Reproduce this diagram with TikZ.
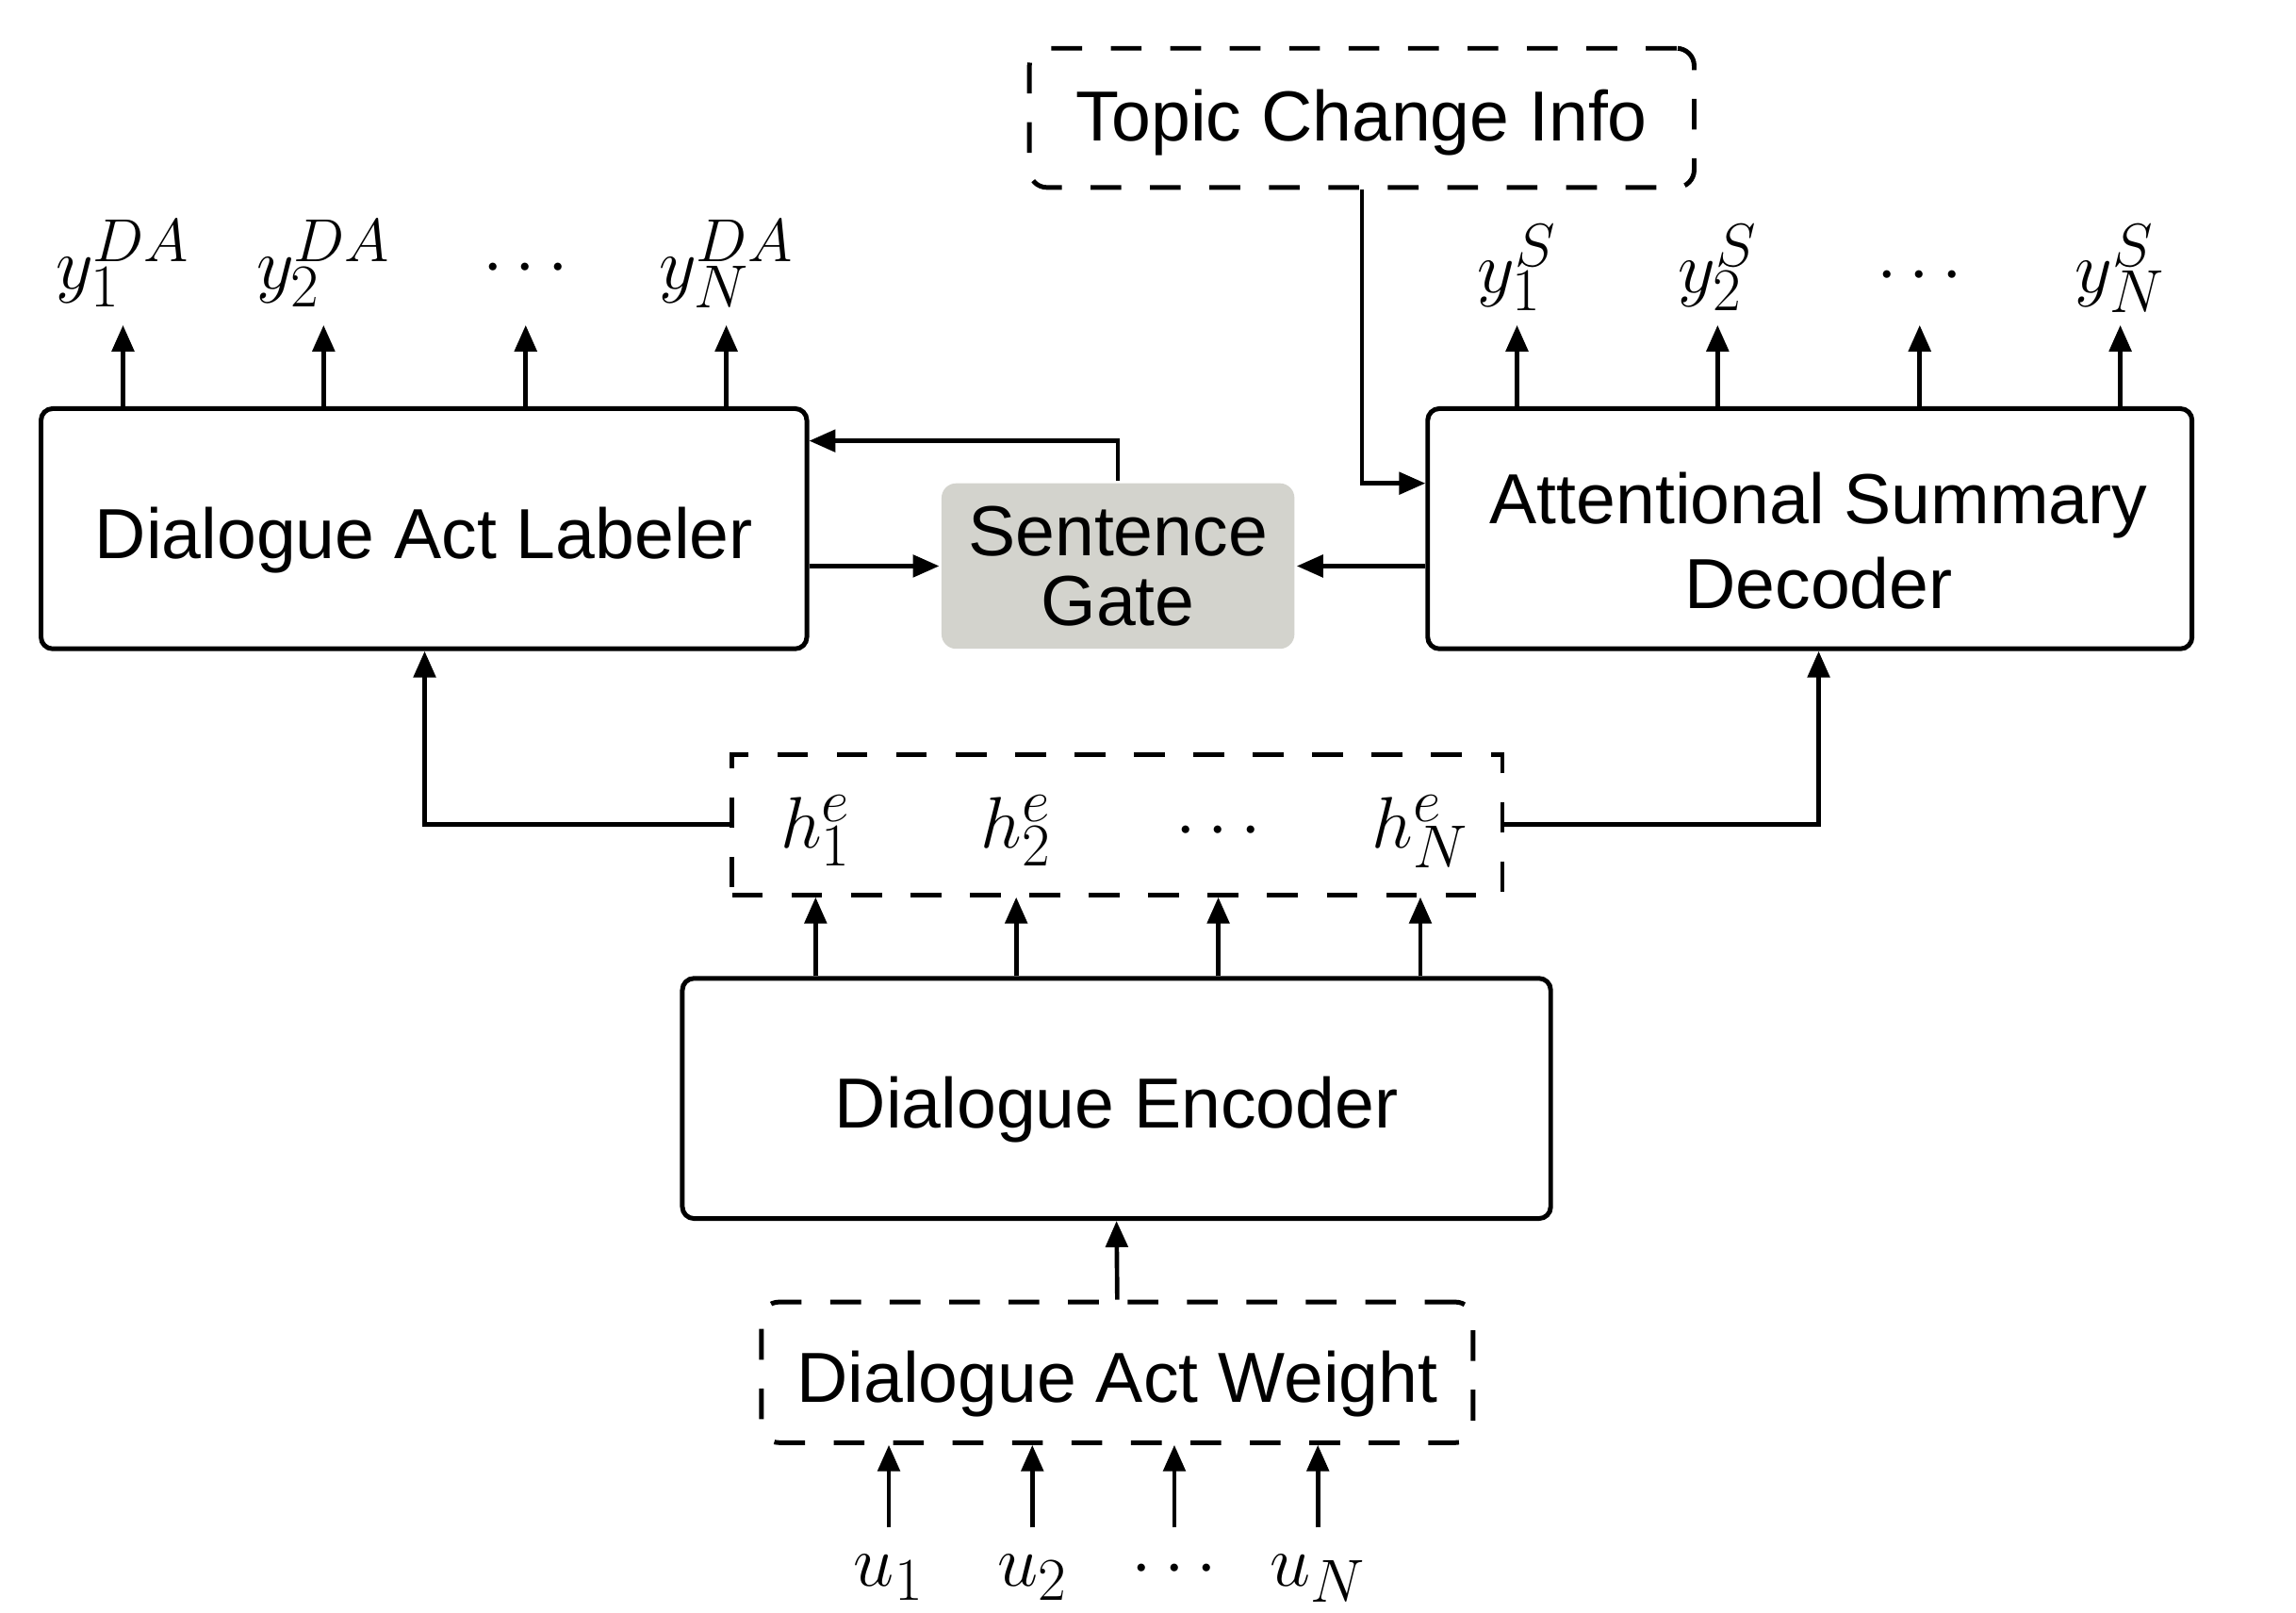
\documentclass[tikz,border=0pt]{standalone}
\usepackage{fontspec}
\setmainfont{Liberation Sans}
\usetikzlibrary{arrows.meta,calc}
\DeclareMathSizes{28}{28}{21}{16}
\definecolor{gatefill}{RGB}{211,211,205}
\begin{document}
\begin{tikzpicture}[x=0.5pt,y=-0.5pt,
  box/.style={draw, line width=1.6pt, rounded corners=4pt, inner sep=0pt,
    font=\fontsize{24.2}{29}\selectfont, align=center},
  low/.style={text height=20.2pt, text depth=0pt},
  dbox/.style={box, dash pattern=on 10.5pt off 9.8pt},
  txt/.style={inner sep=0pt, font=\fontsize{24.2}{29}\selectfont, align=center},
  arr/.style={line width=1.5pt, -{Triangle[length=9pt,width=7.5pt]}},
  mth/.style={font=\fontsize{28}{32}\selectfont, inner sep=0pt, anchor=base}]
\useasboundingbox (0,0) rectangle (1568,1101);

% boxes
\node[box, low, minimum width=261.5pt, minimum height=82pt] (dal) at (289.5,361) {Dialogue Act Labeler};
\node[box, draw=none, fill=gatefill, rounded corners=5pt, minimum width=120.5pt, minimum height=56.5pt,
  font=\fontsize{24.2}{24}\selectfont] (sg) at (763.5,386.5) {Sentence\\Gate};
\node[box, minimum width=261pt, minimum height=82pt] (asd) at (1236,361) {};
\node[txt] (asdt) at (1242,369) {Attentional Summary\\Decoder};
\node[dbox, rounded corners=6pt, text height=17.2pt, text depth=1.2pt, minimum width=227pt, minimum height=47.5pt] (tci) at (930,80.5) {Topic Change Info};
\node[dbox, rounded corners=0pt, minimum width=263pt, minimum height=48pt] (hb) at (763,563) {};
\node[box, low, minimum width=296.5pt, minimum height=82pt] (de) at (762.5,750) {Dialogue Encoder};
\node[dbox, low, rounded corners=6pt, minimum width=243pt, minimum height=48pt] (daw) at (763,937) {Dialogue Act Weight};

% output labels
\node[mth] (ya1) at (84,197) {$y_1^{DA}$};
\node[mth] (ya2) at (221,197) {$y_2^{DA}$};
\node[mth] (yad) at (359,195) {$\cdots$};
\node[mth] (yaN) at (496,197) {$y_N^{DA}$};
\node[mth] (ys1) at (1036,200) {$y_1^{S}$};
\node[mth] (ys2) at (1173,200) {$y_2^{S}$};
\node[mth] (ysd) at (1311,200) {$\cdots$};
\node[mth] (ysN) at (1448,200) {$y_N^{S}$};
% hidden states
\node[mth] (h1) at (557,579) {$h_1^{e}$};
\node[mth] (h2) at (694,579) {$h_2^{e}$};
\node[mth] (hd) at (832,579) {$\cdots$};
\node[mth] (hN) at (970,579) {$h_N^{e}$};
% inputs
\node[mth] (u1) at (607,1083) {$u_1$};
\node[mth] (u2) at (705,1083) {$u_2$};
\node[mth] (ud) at (802,1083) {$\cdots$};
\node[mth] (uN) at (900,1083) {$u_N$};

% output arrows
\foreach \n in {ya1,ya2,yad,yaN}
  \draw[arr] (dal.north -| \n) -- (\n |- 0,222);
\foreach \n in {ys1,ys2,ysd,ysN}
  \draw[arr] (asd.north -| \n) -- (\n |- 0,222);
% encoder to hidden
\foreach \n in {h1,h2,hd,hN}
  \draw[arr] (de.north -| \n) -- (hb.south -| \n);
% inputs
\foreach \n in {u1,u2,ud,uN}
  \draw[arr] (\n |- 0,1043) -- (\n |- daw.south);
\draw[arr] (daw.north) -- (de.south);

% hidden to labeler / decoder
\coordinate (hl) at (290,563);
\coordinate (hr) at (1242,563);
\draw[arr] (hb.west) -- (hl) -- (hl |- dal.south);
\draw[arr] (hb.east) -- (hr) -- (hr |- asd.south);

% sentence gate connections
\draw[arr] (sg.west -| dal.east) -- (sg.west);
\draw[arr] (sg.east -| asd.west) -- (sg.east);
\coordinate (fb) at (763.5,301);
\draw[arr] (sg.north) -- (fb) -- (fb -| dal.east);

% topic change info
\coordinate (ti) at (930,330);
\draw[arr] (tci.south) -- (ti) -- (ti -| asd.west);
\end{tikzpicture}
\end{document}
